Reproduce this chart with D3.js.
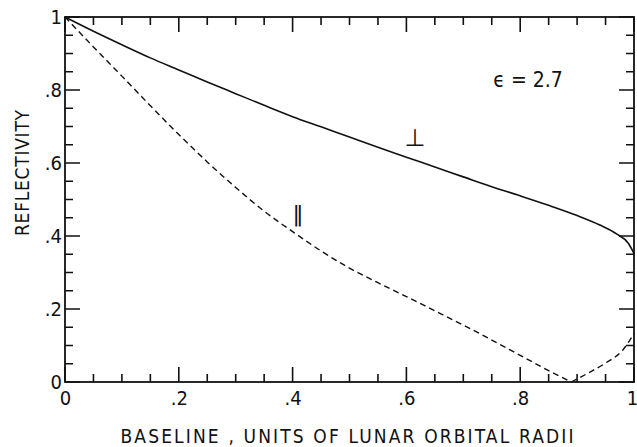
<!DOCTYPE html>
<html>
<head>
<meta charset="utf-8">
<script src="https://cdn.jsdelivr.net/npm/d3@7"></script>
<style>
  body { margin: 0; background: #fff; }
  svg text { font-family: "Liberation Sans Narrow", "DejaVu Sans Condensed", sans-serif; fill: #111; }
</style>
</head>
<body>
<div id="chart"></div>
<script>
// values
const perpBaseline = [0, 0.05, 0.10, 0.15, 0.20, 0.25, 0.30, 0.35, 0.40, 0.45, 0.50, 0.55, 0.60, 0.65, 0.70, 0.75, 0.80, 0.85, 0.90, 0.94, 0.97, 0.99, 1.0];
const perpReflectivity = [1.0, 0.961, 0.924, 0.888, 0.855, 0.822, 0.790, 0.758, 0.727, 0.699, 0.671, 0.643, 0.616, 0.589, 0.562, 0.535, 0.510, 0.484, 0.456, 0.430, 0.405, 0.380, 0.352];

const parBaseline = [0, 0.05, 0.10, 0.15, 0.20, 0.25, 0.30, 0.35, 0.40, 0.45, 0.50, 0.55, 0.60, 0.65, 0.70, 0.75, 0.80, 0.85, 0.89, 0.92, 0.95, 0.98, 1.0];
const parReflectivity = [1.0, 0.918, 0.838, 0.757, 0.678, 0.603, 0.533, 0.468, 0.412, 0.359, 0.312, 0.272, 0.234, 0.195, 0.156, 0.115, 0.073, 0.031, 0.0, 0.025, 0.052, 0.087, 0.133];
const parMinimum = 0.89;

const majorTicks = [0, 0.2, 0.4, 0.6, 0.8, 1];
const tickLabels = ["0", ".2", ".4", ".6", ".8", "1"];
const minorTicks = [0, 0.05, 0.1, 0.15, 0.2, 0.25, 0.3, 0.35, 0.4, 0.45, 0.5, 0.55, 0.6, 0.65, 0.7, 0.75, 0.8, 0.85, 0.9, 0.95, 1];

const width = 637, height = 447;
const margin = { top: 17, right: 3, bottom: 65, left: 65 };

const svg = d3.select("#chart").append("svg")
  .attr("width", width)
  .attr("height", height);

const x = d3.scaleLinear().domain([0, 1]).range([margin.left, width - margin.right]);
const y = d3.scaleLinear().domain([0, 1]).range([height - margin.bottom, margin.top]);

const fmt = d => tickLabels[majorTicks.indexOf(d)];
const tickLen = d => majorTicks.includes(d) ? 15 : 8;

// frame
svg.append("rect")
  .attr("x", x(0)).attr("y", y(1))
  .attr("width", x(1) - x(0)).attr("height", y(0) - y(1))
  .attr("fill", "none")
  .attr("stroke", "#111")
  .attr("stroke-width", 1.8);

// labels come from d3 axes
const xAxis = svg.append("g")
  .attr("transform", `translate(0,${y(0)})`)
  .call(d3.axisBottom(x).tickValues(majorTicks).tickSize(0).tickPadding(9).tickFormat(fmt));
xAxis.select(".domain").remove();
xAxis.selectAll("text").attr("font-size", 20).attr("dx", d => d === 1 ? -2 : 0);

const yAxis = svg.append("g")
  .attr("transform", `translate(${x(0)},0)`)
  .call(d3.axisLeft(y).tickValues(majorTicks).tickSize(0).tickPadding(3).tickFormat(fmt));
yAxis.select(".domain").remove();
yAxis.selectAll("text").attr("font-size", 20);

// inward tick marks on all four sides, one path
const tickPath = d3.path();
minorTicks.forEach(d => {
  tickPath.moveTo(x(d), y(0)); tickPath.lineTo(x(d), y(0) - tickLen(d));
  tickPath.moveTo(x(d), y(1)); tickPath.lineTo(x(d), y(1) + tickLen(d));
  tickPath.moveTo(x(0), y(d)); tickPath.lineTo(x(0) + tickLen(d), y(d));
  tickPath.moveTo(x(1), y(d)); tickPath.lineTo(x(1) - tickLen(d), y(d));
});
svg.append("path")
  .attr("d", tickPath.toString())
  .attr("fill", "none")
  .attr("stroke", "#111")
  .attr("stroke-width", 1.6);

// curves
const perp = perpBaseline.map((b, i) => [b, perpReflectivity[i]]);
const par = parBaseline.map((b, i) => [b, parReflectivity[i]]);
const line = d3.line().x(d => x(d[0])).y(d => y(d[1])).curve(d3.curveMonotoneX);

svg.append("path")
  .datum(perp)
  .attr("fill", "none")
  .attr("stroke", "#111")
  .attr("stroke-width", 1.6)
  .attr("d", line);

// parallel curve has a sharp minimum, so draw both branches
svg.selectAll("path.par")
  .data([par.filter(d => d[0] <= parMinimum), par.filter(d => d[0] >= parMinimum)])
  .join("path")
  .attr("class", "par")
  .attr("fill", "none")
  .attr("stroke", "#111")
  .attr("stroke-width", 1.4)
  .attr("stroke-dasharray", "6,4")
  .attr("d", line);

// labels
svg.append("text")
  .attr("x", 415).attr("y", 146)
  .attr("text-anchor", "middle")
  .style("font-family", "DejaVu Sans")
  .attr("font-size", 24)
  .text("⊥");

svg.append("text")
  .attr("x", 298).attr("y", 221)
  .attr("text-anchor", "middle")
  .style("font-family", "DejaVu Sans")
  .attr("font-size", 22)
  .text("‖");

svg.append("text")
  .attr("x", 528).attr("y", 87)
  .attr("text-anchor", "middle")
  .attr("font-size", 21)
  .text("ϵ = 2.7");

svg.append("text")
  .attr("transform", `translate(29,173) rotate(-90)`)
  .attr("text-anchor", "middle")
  .attr("font-size", 19)
  .attr("textLength", 126)
  .attr("lengthAdjust", "spacing")
  .text("REFLECTIVITY");

svg.append("text")
  .attr("x", 347).attr("y", 443)
  .attr("text-anchor", "middle")
  .attr("font-size", 19)
  .attr("textLength", 453)
  .attr("lengthAdjust", "spacing")
  .text("BASELINE , UNITS  OF  LUNAR  ORBITAL  RADII");
</script>
</body>
</html>
